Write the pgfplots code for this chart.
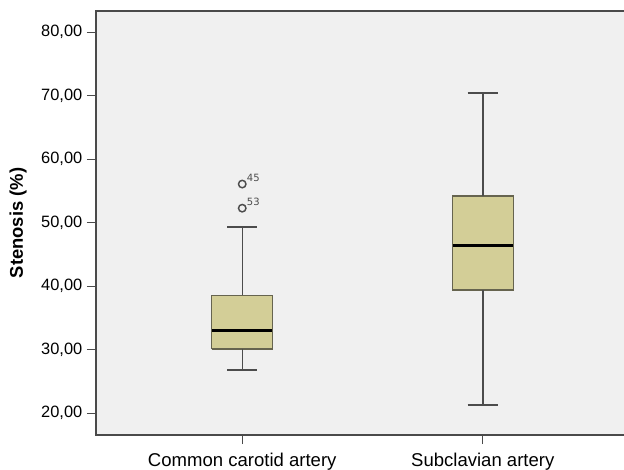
\documentclass[border=0pt]{standalone}
\usepackage{fontspec}
\setmainfont{Liberation Sans}
\newfontfamily\outf{DejaVu Sans}
\usepackage{pgfplots}
\pgfplotsset{compat=1.18}
\definecolor{bgc}{HTML}{F0F0F0}
\definecolor{boxc}{HTML}{D3CE97}
\definecolor{edgec}{HTML}{66644F}
\definecolor{whc}{HTML}{4C4C4C}
\definecolor{framec}{HTML}{4A4A4A}
\begin{document}
\begin{tikzpicture}
\useasboundingbox (-72pt,-25.5pt) rectangle (396pt,326.25pt);
\begin{axis}[
  at={(0,0)}, anchor=south west,
  scale only axis, width=399.75pt, height=318pt,
  xmin=0.392, xmax=2.608, ymin=16.58, ymax=83.35,
  axis background/.style={fill=bgc},
  axis line style={framec, line width=1.5pt},
  tick align=outside, tick pos=left,
  major tick length=6.75pt,
  every tick/.style={framec, line width=1pt},
  xtick={1,2}, xticklabels={Common carotid artery, Subclavian artery},
  ytick={20,30,40,50,60,70,80},
  yticklabel={\pgfmathprintnumber[fixed, fixed zerofill, precision=2, use comma, assume math mode=true]{\tick}},
  yticklabel style={font=\fontsize{12.3}{14}\selectfont},
  xticklabel style={font=\fontsize{13.9}{16}\selectfont, yshift=-3pt},
  ylabel={\bfseries Stenosis (\%)},
  every axis y label/.style={at={(rel axis cs:0,0.5)}, xshift=-58.5pt, rotate=90, anchor=center, font=\fontsize{13.8}{16}\selectfont},
]
% Common carotid artery
\addplot[draw=edgec, fill=boxc, line width=1pt] coordinates {(0.873,30.1) (1.127,30.1) (1.127,38.6) (0.873,38.6) (0.873,30.1)};
\addplot[draw=whc, line width=1.1pt] coordinates {(1,38.6) (1,49.4)};
\addplot[draw=whc, line width=1.1pt] coordinates {(1,30.1) (1,26.8)};
\addplot[draw=whc, line width=1.4pt] coordinates {(0.9375,49.4) (1.0625,49.4)};
\addplot[draw=whc, line width=1.4pt] coordinates {(0.9375,26.8) (1.0625,26.8)};
\addplot[draw=black, line width=2.4pt] coordinates {(0.875,33.0) (1.125,33.0)};
% Subclavian artery
\addplot[draw=edgec, fill=boxc, line width=1pt] coordinates {(1.873,39.4) (2.127,39.4) (2.127,54.2) (1.873,54.2) (1.873,39.4)};
\addplot[draw=whc, line width=1.1pt] coordinates {(2,54.2) (2,70.4)};
\addplot[draw=whc, line width=1.1pt] coordinates {(2,39.4) (2,21.3)};
\addplot[draw=whc, line width=1.4pt] coordinates {(1.9375,70.4) (2.0625,70.4)};
\addplot[draw=whc, line width=1.4pt] coordinates {(1.9375,21.3) (2.0625,21.3)};
\addplot[draw=black, line width=2.4pt] coordinates {(1.875,46.4) (2.125,46.4)};
% outliers
\addplot[only marks, mark=o, mark size=2.8pt, mark options={draw=whc, line width=1.1pt},
  nodes near coords, point meta=explicit symbolic,
  every node near coord/.style={font=\outf\fontsize{7.5}{9}\selectfont, text=whc, anchor=south west, inner sep=0pt, xshift=3pt, yshift=1.5pt}]
  table[meta=label] {
x y label
1 56.1 45
1 52.3 53
};
\end{axis}
\end{tikzpicture}
\end{document}
